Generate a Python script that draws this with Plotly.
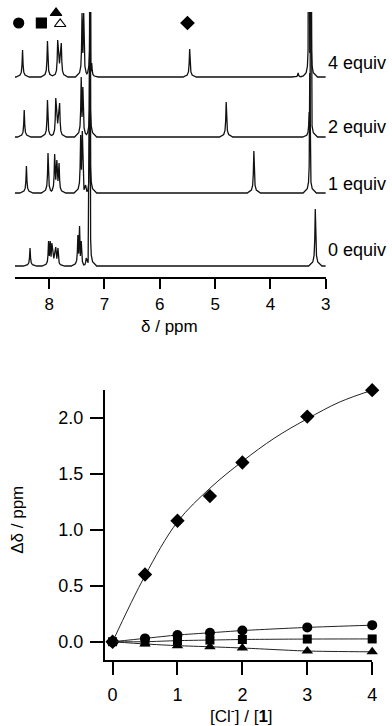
import plotly.graph_objects as go

# ---------------- data ----------------
# NMR spectra: peak positions (ppm) and apparent heights (arb. units)
spec_labels = ["0 equiv", "1 equiv", "2 equiv", "4 equiv"]
peaks_0 = [(8.345, 18), (8.01, 25), (7.98, 25), (7.95, 23), (7.88, 19), (7.84, 18),
           (7.48, 31), (7.45, 40), (7.42, 25), (7.33, 8), (7.26, 300), (3.19, 57)]
peaks_1 = [(8.41, 27), (8.02, 40), (7.90, 39), (7.86, 33), (7.82, 30),
           (7.43, 58), (7.40, 62), (7.34, 8), (7.26, 300), (4.30, 42), (3.29, 120)]
peaks_2 = [(8.45, 27), (8.03, 37), (7.88, 39), (7.81, 34),
           (7.42, 60), (7.39, 50), (7.26, 300), (4.80, 35), (3.30, 25), (3.27, 300)]
peaks_4 = [(8.48, 27), (8.03, 36), (7.845, 37), (7.78, 34),
           (7.405, 64), (7.375, 64), (7.26, 300), (7.23, 14), (5.46, 28),
           (3.50, 4), (3.31, 300), (3.27, 300)]
spec_peaks = [peaks_0, peaks_1, peaks_2, peaks_4]
spec_offsets = [11, 84, 140, 200]

# assignment symbols over the spectra (ppm)
sym_ppm = [8.55, 8.14, 7.875, 7.80, 5.50]
sym_level = [254, 254, 264, 253, 254]
sym_shape = ["circle", "square", "triangle-up", "triangle-up-open", "diamond"]

# titration data
eq = [0, 0.5, 1, 1.5, 2, 3, 4]
d_diamond = [0, 0.60, 1.08, 1.30, 1.60, 2.01, 2.245]
d_circle = [0, 0.03, 0.06, 0.08, 0.10, 0.128, 0.148]
d_square = [0, 0.0, 0.01, 0.015, 0.02, 0.024, 0.025]
d_triangle = [0, -0.02, -0.035, -0.045, -0.056, -0.083, -0.09]
# fitted curve through the diamond series
fit_x = [0, 0.5, 1, 1.5, 2, 2.5, 3, 3.5, 4]
fit_diamond = [0, 0.59, 1.07, 1.37, 1.61, 1.82, 1.99, 2.14, 2.245]

FONT = "Liberation Sans, Arial, sans-serif"
W, H = 392, 726

# peak line-shape (style): distance from apex in ppm -> fraction of height
PROF_D = [0.010, 0.022, 0.045, 0.12]
PROF_F = [0.45, 0.18, 0.07, 0.0]


def spectrum_path(peaks, offset, start=8.62, end=3.0):
    xs, ys = [start], [offset]
    n = len(peaks)
    for i, (p, h) in enumerate(peaks):
        t = min(h, 60)
        gp = abs(peaks[i - 1][0] - p) if i > 0 else 99
        gn = abs(peaks[i + 1][0] - p) if i < n - 1 else 99
        # left side (higher ppm)
        if gp >= 0.08:
            for d, f in reversed(list(zip(PROF_D, PROF_F))):
                if d < gp / 2:
                    xs.append(p + d)
                    ys.append(offset + f * t)
        xs.append(p)
        ys.append(offset + h)
        # right side (lower ppm)
        if gn < 0.08:
            q, hq = peaks[i + 1]
            xs.append((p + q) / 2)
            ys.append(offset + 0.4 * min(t, min(hq, 60)))
        else:
            for d, f in zip(PROF_D, PROF_F):
                if d < gn / 2:
                    xs.append(p - d)
                    ys.append(offset + f * t)
            if gn < 2 * PROF_D[-1]:
                q, hq = peaks[i + 1]
                xs.append((p + q) / 2)
                ys.append(offset + 0.05 * (t + min(hq, 60)) * (0.12 / max(gn, 0.08)) * 0.5)
    xs.append(end)
    ys.append(offset)
    return xs, ys


fig = go.Figure()

for pk, off in zip(spec_peaks, spec_offsets):
    xs, ys = spectrum_path(pk, off)
    fig.add_trace(go.Scatter(x=xs, y=ys, mode="lines", xaxis="x", yaxis="y",
                             line=dict(color="#111", width=1.3), showlegend=False,
                             hoverinfo="skip"))

fig.add_trace(go.Scatter(x=sym_ppm, y=sym_level, mode="markers", xaxis="x", yaxis="y",
                         cliponaxis=False, showlegend=False,
                         marker=dict(symbol=sym_shape, size=10, color="black",
                                     line=dict(color="black", width=1.2))))

# fitted curve for diamonds
fig.add_trace(go.Scatter(x=fit_x, y=fit_diamond, mode="lines", xaxis="x2", yaxis="y2",
                         showlegend=False, line=dict(color="#222", width=1, shape="spline",
                                                     smoothing=1.0)))

series = [(d_diamond, "diamond", 11, False), (d_circle, "circle", 10, True),
          (d_square, "square", 9, True), (d_triangle, "triangle-up", 10, True)]
for vals, sym, sz, with_line in series:
    fig.add_trace(go.Scatter(x=eq, y=vals, mode="lines+markers" if with_line else "markers",
                             xaxis="x2", yaxis="y2",
                             cliponaxis=False, showlegend=False,
                             line=dict(color="#222", width=1, shape="spline", smoothing=0.6),
                             marker=dict(symbol=sym, size=sz, color="black")))

annotations = []
label_y = [250, 184, 127, 63]
for lab, ly in zip(spec_labels, label_y):
    annotations.append(dict(text=lab, x=330 / W, y=1 - ly / H, xref="paper", yref="paper",
                            xanchor="left", yanchor="middle", showarrow=False,
                            font=dict(family=FONT, size=18, color="black")))
annotations.append(dict(text="δ / ppm", x=172 / W, y=1 - 327 / H, xref="paper", yref="paper",
                        xanchor="center", yanchor="middle", showarrow=False,
                        font=dict(family=FONT, size=17, color="black")))
annotations.append(dict(text="Δδ / ppm", x=17 / W, y=1 - 520 / H, xref="paper", yref="paper",
                        xanchor="center", yanchor="middle", showarrow=False, textangle=-90,
                        font=dict(family=FONT, size=17, color="black")))
annotations.append(dict(text="[Cl<sup>-</sup>] / [<b>1</b>]", x=245 / W, y=1 - 715 / H,
                        xref="paper", yref="paper", xanchor="center", yanchor="middle",
                        showarrow=False, font=dict(family=FONT, size=17, color="black")))

axis_common = dict(showgrid=False, zeroline=False, showline=True, linecolor="black",
                   linewidth=1.5, ticks="outside", tickcolor="black", tickwidth=1.5)

fig.update_layout(
    width=W, height=H, margin=dict(l=0, r=0, t=0, b=0),
    paper_bgcolor="white", plot_bgcolor="white",
    showlegend=False,
    xaxis=dict(domain=[15 / W, 330 / W], range=[8.62, 3.0], anchor="y",
               tickvals=[8, 7, 6, 5, 4, 3], ticklen=10, ticklabelstandoff=1,
               tickfont=dict(family=FONT, size=17, color="black"), **axis_common),
    yaxis=dict(domain=[1 - 277 / H, 1 - 12 / H], range=[0, 265], anchor="x",
               visible=False),
    xaxis2=dict(domain=[106 / W, 377 / W], range=[-0.122, 4.0], anchor="y2",
                tickvals=[0, 1, 2, 3, 4], ticklen=13, ticklabelstandoff=5,
                tickfont=dict(family=FONT, size=18, color="black"), **axis_common),
    yaxis2=dict(domain=[1 - 660 / H, 1 - 390 / H], range=[-0.163, 2.247], anchor="x2",
                tickvals=[0, 0.5, 1.0, 1.5, 2.0], ticktext=["0.0", "0.5", "1.0", "1.5", "2.0"],
                ticklen=13, ticklabelstandoff=3,
                tickfont=dict(family=FONT, size=18, color="black"), **axis_common),
    annotations=annotations,
)

fig.write_html("out.html")
